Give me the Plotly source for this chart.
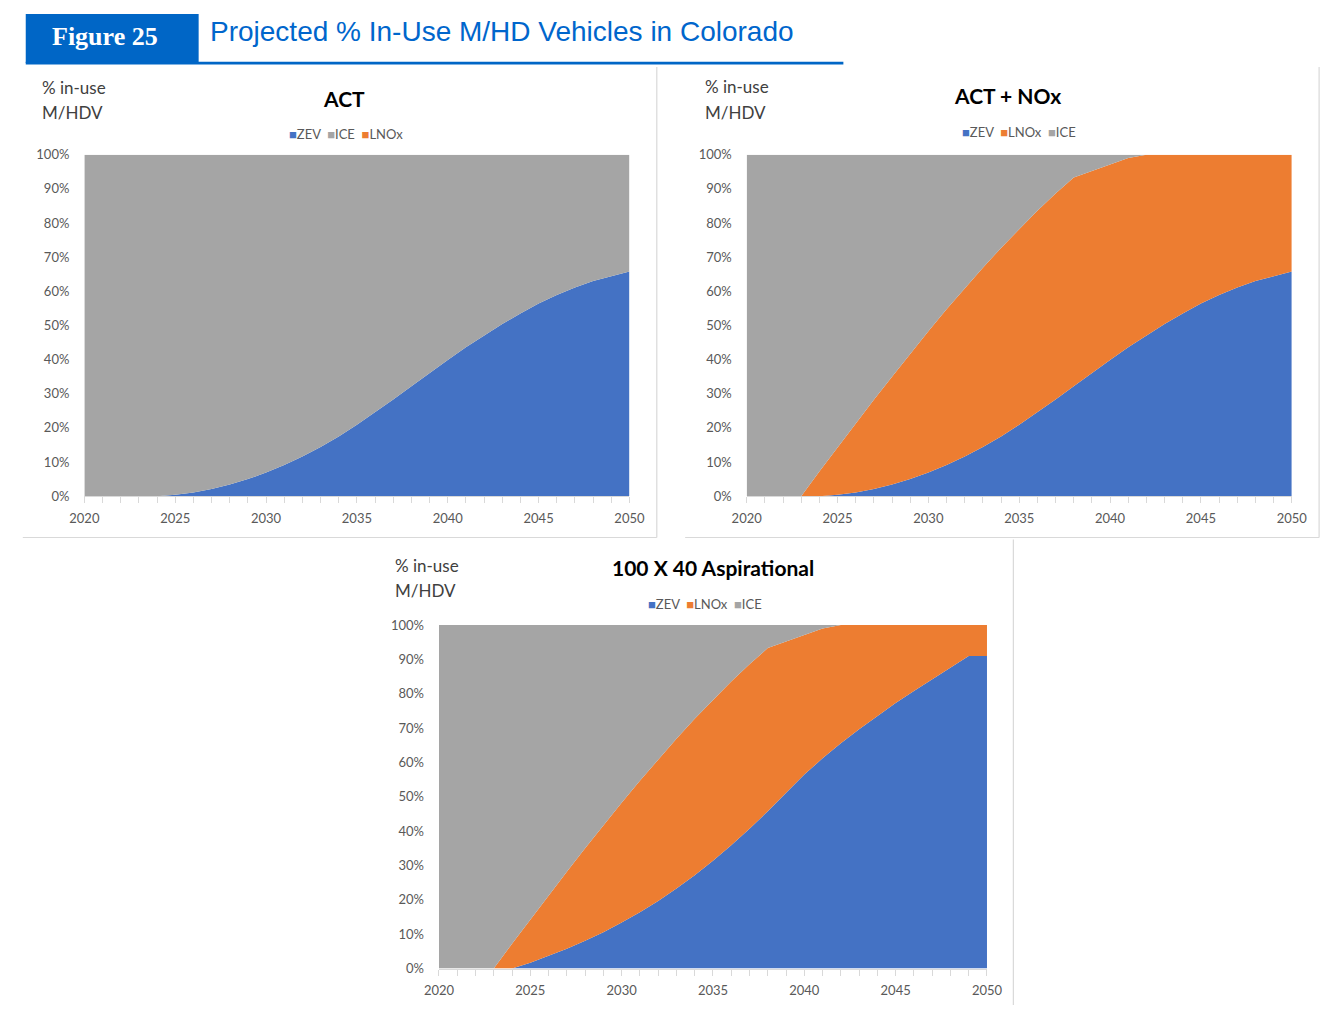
import plotly.graph_objects as go

W, H = 1340, 1013

# ---------------- data ----------------
years = list(range(2020, 2051))

act_zev = [0, 0, 0, 0, 0, 0.4, 1.1, 2.1, 3.4, 5.0, 6.9, 9.1, 11.6, 14.4, 17.5, 20.9,
           24.5, 28.3, 32.2, 36.1, 39.9, 43.6, 47.1, 50.4, 53.5, 56.4, 58.9, 61.1, 63.0, 64.5, 65.8]
act_ice = [100, 100, 100, 100, 100, 99.6, 98.9, 97.9, 96.6, 95.0, 93.1, 90.9, 88.4, 85.6, 82.5, 79.1,
           75.5, 71.7, 67.8, 63.9, 60.1, 56.4, 52.9, 49.6, 46.5, 43.6, 41.1, 38.9, 37.0, 35.5, 34.2]
act_lnox = [0] * 31

nox_zev = [0, 0, 0, 0, 0, 0.4, 1.1, 2.1, 3.4, 5.0, 6.9, 9.1, 11.6, 14.4, 17.5, 20.9,
           24.5, 28.3, 32.2, 36.1, 39.9, 43.6, 47.1, 50.4, 53.5, 56.4, 58.9, 61.1, 63.0, 64.5, 65.8]
nox_lnox = [0, 0, 0, 0, 7.2, 13.9, 20.2, 26.1, 31.6, 36.7, 41.4, 45.6, 49.3, 52.5, 55.2, 57.4,
            59.1, 60.3, 61.1, 59.1, 57.3, 55.4, 52.9, 49.6, 46.5, 43.6, 41.1, 38.9, 37.0, 35.5, 34.2]
nox_ice = [100, 100, 100, 100, 92.8, 85.7, 78.7, 71.8, 65.0, 58.3, 51.7, 45.3, 39.1, 33.1, 27.3, 21.7,
           16.4, 11.4, 6.7, 4.8, 2.8, 1.0, 0, 0, 0, 0, 0, 0, 0, 0, 0]

asp_zev = [0, 0, 0, 0, 0, 1.7, 3.7, 5.8, 8.1, 10.6, 13.4, 16.4, 19.7, 23.3, 27.2, 31.4,
           35.9, 40.7, 45.8, 51.2, 56.5, 61.2, 65.6, 69.7, 73.6, 77.3, 80.8, 84.2, 87.6, 91.0, 91.0]
asp_lnox = [0, 0, 0, 0, 7.2, 12.6, 17.6, 22.4, 26.9, 31.1, 34.9, 38.3, 41.2, 43.6, 45.5, 46.9,
            47.7, 47.9, 47.5, 44.0, 40.7, 37.8, 34.4, 30.3, 26.4, 22.7, 19.2, 15.8, 12.4, 9.0, 9.0]
asp_ice = [100, 100, 100, 100, 92.8, 85.7, 78.7, 71.8, 65.0, 58.3, 51.7, 45.3, 39.1, 33.1, 27.3, 21.7,
           16.4, 11.4, 6.7, 4.8, 2.8, 1.0, 0, 0, 0, 0, 0, 0, 0, 0, 0]

y_ticks = list(range(0, 101, 10))
y_ticktext = [f"{v}%" for v in y_ticks]

chart_titles = ["ACT", "ACT + NOx", "100 X 40 Aspirational"]

# ---------------- styles ----------------
BLUE, ORANGE, GRAY = "#4472C4", "#ED7D31", "#A5A5A5"
COLORS = {"ZEV": BLUE, "LNOx": ORANGE, "ICE": GRAY}
FONT = "Lato, 'Open Sans', sans-serif"
TICKCOL = "#595959"
AXCOL = "#D9D9D9"


def fx(p):
    return p / W


def fy(p):
    return 1 - p / H


panels = [
    dict(series=[("ZEV", act_zev), ("ICE", act_ice), ("LNOx", act_lnox)],
         box=(71, 629, 149, 496), lab=(26, 81, 106), title=(337, 92), leg=(339, 128)),
    dict(series=[("ZEV", nox_zev), ("LNOx", nox_lnox), ("ICE", nox_ice)],
         box=(749, 1307, 149, 496), lab=(704, 80, 106), title=(1016, 89), leg=(1028, 126)),
    dict(series=[("ZEV", asp_zev), ("LNOx", asp_lnox), ("ICE", asp_ice)],
         box=(434, 995, 627, 976), lab=(387, 566, 592), title=(715, 568), leg=(706, 606)),
]

fig = go.Figure()
annotations = []
shapes = []
layout_axes = {}

for i, p in enumerate(panels):
    k = "" if i == 0 else str(i + 1)
    for name, vals in p["series"]:
        fig.add_trace(go.Scatter(
            x=years, y=vals, name=name, mode="lines", stackgroup=f"s{i}",
            line=dict(width=0, color=COLORS[name]), fillcolor=COLORS[name],
            xaxis=f"x{k}", yaxis=f"y{k}", showlegend=False))
    x0, x1, y0, y1 = p["box"]
    layout_axes[f"xaxis{k}"] = dict(
        domain=[fx(x0), fx(x1)], anchor=f"y{k}", range=[2020, 2050],
        tickmode="linear", tick0=2020, dtick=5, tickformat="d",
        ticks="outside", ticklen=6, tickcolor=AXCOL, tickwidth=1,
        minor=dict(dtick=1, tick0=2020, ticks="outside", ticklen=6, tickcolor=AXCOL, showgrid=False),
        showline=True, linecolor=AXCOL, linewidth=1, showgrid=False, zeroline=False,
        tickfont=dict(family=FONT, size=13, color=TICKCOL), ticklabelstandoff=4, fixedrange=True)
    layout_axes[f"yaxis{k}"] = dict(
        domain=[fy(y1), fy(y0)], anchor=f"x{k}", range=[0, 100],
        tickmode="array", tickvals=y_ticks, ticktext=y_ticktext,
        showgrid=False, showline=False, zeroline=False, ticks="",
        tickfont=dict(family=FONT, size=13, color=TICKCOL), ticklabelstandoff=14, fixedrange=True)

    lx, ly1, ly2 = p["lab"]
    for txt, yy in (("% in-use", ly1), ("M/HDV", ly2)):
        annotations.append(dict(text=txt, x=fx(lx), y=fy(yy), xref="paper", yref="paper",
                                xanchor="left", yanchor="middle", showarrow=False,
                                font=dict(family=FONT, size=17, color="#404040")))
    tx, ty = p["title"]
    annotations.append(dict(text=f"<b>{chart_titles[i]}</b>", x=fx(tx), y=fy(ty), xref="paper", yref="paper",
                            xanchor="center", yanchor="middle", showarrow=False,
                            font=dict(family=FONT, size=21, color="#000000")))
    gx, gy = p["leg"]
    leg_txt = "  ".join(
        f'<span style="color:{COLORS[n]}; font-size:13px">■</span>{n}' for n, _ in p["series"])
    annotations.append(dict(text=leg_txt, x=fx(gx), y=fy(gy), xref="paper", yref="paper",
                            xanchor="center", yanchor="middle", showarrow=False,
                            font=dict(family=FONT, size=13, color=TICKCOL)))

# panel borders
for (xa, ya, xb, yb) in [(8, 538, 657, 538), (657, 60, 657, 538),
                         (686, 538, 1335, 538), (1335, 60, 1335, 538),
                         (1022, 540, 1022, 1013)]:
    shapes.append(dict(type="line", xref="paper", yref="paper", x0=fx(xa), y0=fy(ya), x1=fx(xb), y1=fy(yb),
                       line=dict(color=AXCOL, width=1.2)))

# header
HEAD_BLUE = "#0066C6"
shapes.append(dict(type="rect", xref="paper", yref="paper", x0=fx(11), x1=fx(188), y0=fy(56), y1=fy(6),
                   fillcolor=HEAD_BLUE, line=dict(width=0), layer="above"))
shapes.append(dict(type="rect", xref="paper", yref="paper", x0=fx(11), x1=fx(848), y0=fy(57.5), y1=fy(54.5),
                   fillcolor=HEAD_BLUE, line=dict(width=0), layer="above"))
annotations.append(dict(text="<b>Figure 25</b>", x=fx(92), y=fy(29), xref="paper", yref="paper",
                        xanchor="center", yanchor="middle", showarrow=False,
                        font=dict(family="Liberation Serif, serif", size=26, color="white")))
annotations.append(dict(text="Projected % In-Use M/HD Vehicles in Colorado", x=fx(198), y=fy(24),
                        xref="paper", yref="paper", xanchor="left", yanchor="middle", showarrow=False,
                        font=dict(family="Liberation Sans, Arial, sans-serif", size=28, color="#0066CC")))

fig.update_layout(
    width=W, height=H, margin=dict(l=0, r=0, t=0, b=0),
    paper_bgcolor="white", plot_bgcolor="white",
    annotations=annotations, shapes=shapes, showlegend=False, **layout_axes)

fig.write_html("out.html", post_script="document.body.style.margin='0';")
